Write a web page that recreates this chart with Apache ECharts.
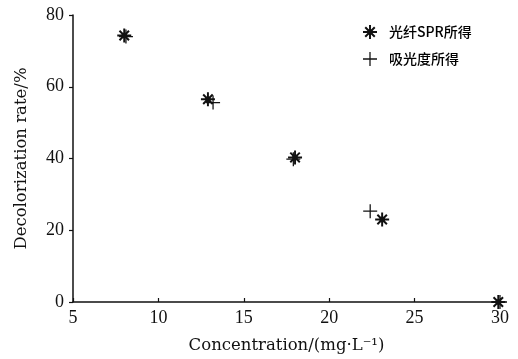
<!DOCTYPE html>
<html>
<head>
<meta charset="utf-8">
<script src="https://cdn.jsdelivr.net/npm/echarts@6/dist/echarts.min.js"></script>
<style>
html,body{margin:0;padding:0;background:#fff;}
#chart{width:518px;height:359px;}
</style>
</head>
<body>
<div id="chart"></div>
<script>
var seriesNames = ['光纤SPR所得', '吸光度所得'];
var sprX = [8, 12.9, 18.0, 23.1, 29.9];
var sprY = [74.3, 56.5, 40.3, 23.0, 0];
var absX = [8.1, 13.2, 17.9, 22.4, 30];
var absY = [74.0, 55.6, 39.8, 25.3, 0];
var xTicks = [5, 10, 15, 20, 25, 30];
var yTicks = [0, 20, 40, 60, 80];
var xTitle = 'Concentration/(mg·L⁻¹)';
var yTitle = 'Decolorization rate/%';

function pairs(xs, ys) { return xs.map(function (x, i) { return [x, ys[i]]; }); }

var asterisk = 'path://M0 8.6H20V11.4H0Z M8.6 0H11.4V20H8.6Z M2.2 4.2L4.2 2.2L17.8 15.8L15.8 17.8Z M15.8 2.2L17.8 4.2L4.2 17.8L2.2 15.8Z M6 6H14V14H6Z';
var plus = 'path://M0 9.1H20V10.9H0Z M9.1 0H10.9V20H9.1Z';

var chart = echarts.init(document.getElementById('chart'), null, {renderer: 'canvas'});
var serif = 'Liberation Serif';
var titleFont = 'DejaVu Serif';
chart.setOption({
  animation: false,
  backgroundColor: '#ffffff',
  grid: {left: 73, right: 18, top: 15, bottom: 57, containLabel: false},
  legend: {
    orient: 'vertical',
    left: 358, top: 20,
    itemWidth: 14, itemHeight: 14, itemGap: 13,
    textStyle: {fontFamily: 'Noto Sans CJK SC', fontSize: 14, fontWeight: 500, color: '#000', padding: [0, 0, 0, 7]},
    data: [
      {name: seriesNames[0], icon: asterisk},
      {name: seriesNames[1], icon: plus}
    ]
  },
  xAxis: {
    type: 'value', min: xTicks[0], max: xTicks[xTicks.length - 1], interval: 5,
    name: xTitle, nameLocation: 'middle', nameGap: 35,
    nameTextStyle: {fontFamily: titleFont, fontSize: 16.5, color: '#111'},
    axisLine: {show: true, onZero: false, lineStyle: {color: '#111', width: 1.5}},
    axisTick: {show: true, inside: true, length: 4, lineStyle: {color: '#111', width: 1.2}},
    axisLabel: {fontFamily: serif, fontSize: 18, color: '#111', margin: 7},
    splitLine: {show: false}
  },
  yAxis: {
    type: 'value', min: yTicks[0], max: yTicks[yTicks.length - 1], interval: 20,
    name: yTitle, nameLocation: 'middle', nameGap: 43, nameRotate: 90,
    nameTextStyle: {fontFamily: titleFont, fontSize: 16.5, color: '#111'},
    axisLine: {show: true, onZero: false, lineStyle: {color: '#111', width: 1.5}},
    axisTick: {show: true, inside: false, length: 4, lineStyle: {color: '#111', width: 1.2}},
    axisLabel: {fontFamily: serif, fontSize: 18, color: '#111', margin: 9},
    splitLine: {show: false}
  },
  series: [
    {
      name: seriesNames[0], type: 'scatter', symbol: asterisk, symbolSize: 14,
      itemStyle: {color: '#111', opacity: 1},
      data: pairs(sprX, sprY), z: 3
    },
    {
      name: seriesNames[1], type: 'scatter', symbol: plus, symbolSize: 14,
      itemStyle: {color: '#111', opacity: 1},
      data: pairs(absX, absY), z: 2
    }
  ]
});
</script>
</body>
</html>
